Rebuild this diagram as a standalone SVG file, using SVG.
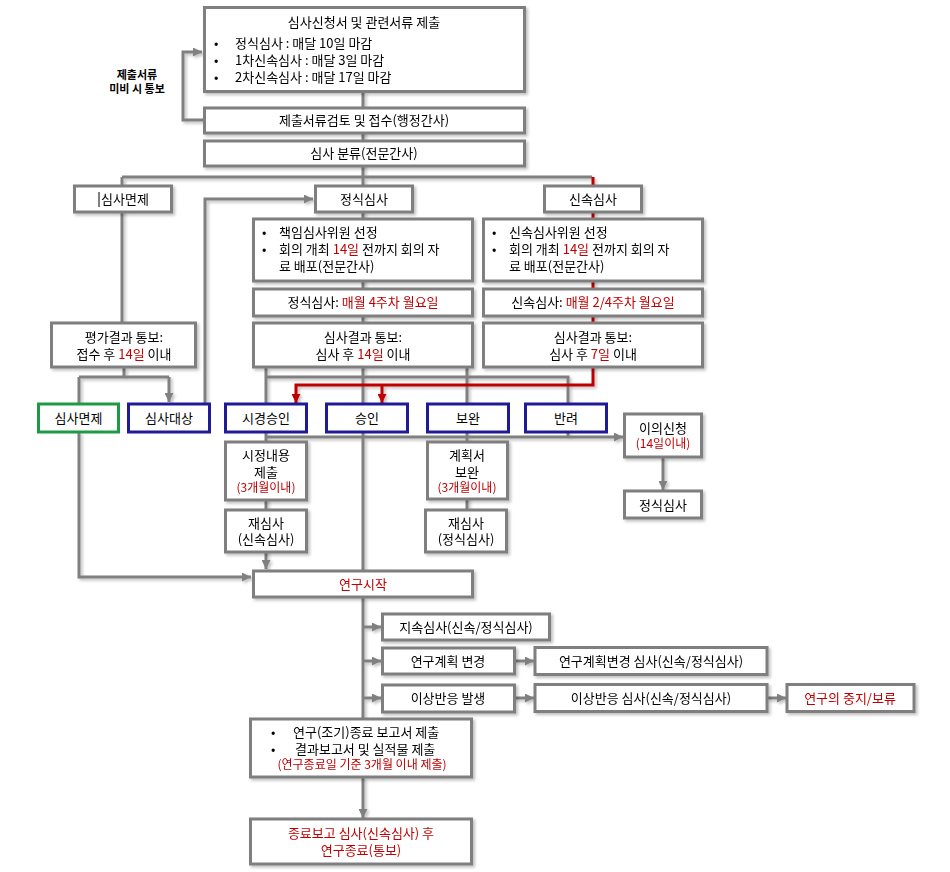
<svg xmlns="http://www.w3.org/2000/svg" width="950" height="872" viewBox="0 0 950 872">
<defs>
<style>
text{font-family:"Noto Sans CJK KR","Noto Sans",sans-serif;font-size:13px;fill:#000;text-anchor:middle}
.st{text-anchor:start}
.r{fill:#c00000}
.sm{font-size:12px}
.lbl{font-size:11px;font-weight:bold}
.box{fill:#fff;stroke:#7f7f7f;stroke-width:3}
.navy{fill:#fff;stroke:#1f1a96;stroke-width:3}
.green{fill:#fff;stroke:#1e9a46;stroke-width:3}
.ln{fill:none;stroke:#808080;stroke-width:3}
.rl{fill:none;stroke:#c00000;stroke-width:3}
</style>
<marker id="ag" viewBox="0 0 10 10" refX="10" refY="5" markerUnits="userSpaceOnUse" markerWidth="9" markerHeight="9" orient="auto"><path d="M0,0 L10,5 L0,10 z" fill="#808080"/></marker>
<marker id="ar" viewBox="0 0 10 10" refX="10" refY="5" markerUnits="userSpaceOnUse" markerWidth="9" markerHeight="9" orient="auto"><path d="M0,0 L10,5 L0,10 z" fill="#c00000"/></marker>
<filter id="sh" x="-10%" y="-10%" width="130%" height="140%"><feDropShadow dx="2" dy="2" stdDeviation="1.5" flood-color="#000" flood-opacity="0.25"/></filter>
</defs>

<g id="connectors" filter="url(#sh)">
<path class="ln" d="M204,120 H183 V52 H202" marker-end="url(#ag)"/>
<path class="ln" d="M363,92 V368"/>
<path class="ln" d="M122,177 H592"/>
<path class="ln" d="M122,177 V323"/>
<path class="ln" d="M124,368 V377 M79,377 H169 M79,377 V404"/>
<path class="ln" d="M169,377 V402" marker-end="url(#ag)"/>
<path class="ln" d="M205,404 V199 H313" marker-end="url(#ag)"/>
<path class="ln" d="M266,368 V404 M363,368 V404 M467,368 V404 M266,377 H568 V404"/>
<path class="ln" d="M79,432 V577 H251" marker-end="url(#ag)"/>
<path class="ln" d="M266,432 V569" marker-end="url(#ag)"/>
<path class="ln" d="M363,432 V571 M467,432 V510 M568,432 V437"/>
<path class="ln" d="M266,437 H623" marker-end="url(#ag)"/>
<path class="ln" d="M663,457 V490" marker-end="url(#ag)"/>
<path class="ln" d="M363,597 V719"/>
<path class="ln" d="M363,627 H381" marker-end="url(#ag)"/>
<path class="ln" d="M363,661 H381" marker-end="url(#ag)"/>
<path class="ln" d="M363,698 H381" marker-end="url(#ag)"/>
<path class="ln" d="M514,661 H534" marker-end="url(#ag)"/>
<path class="ln" d="M514,698 H534" marker-end="url(#ag)"/>
<path class="ln" d="M767,698 H786" marker-end="url(#ag)"/>
<path class="ln" d="M363,777 V818" marker-end="url(#ag)"/>
<path class="rl" d="M593,177 V385 H296 V403" marker-end="url(#ar)"/>
<path class="rl" d="M382,385 V403" marker-end="url(#ar)"/>
</g>

<g id="n-submit" filter="url(#sh)">
<rect class="box" x="204.5" y="7.5" width="320" height="84"/>
<text x="364" y="27">심사신청서 및 관련서류 제출</text>
<text class="st" x="214" y="48">•</text><text class="st" x="235" y="48">정식심사 : 매달 10일 마감</text>
<text class="st" x="214" y="65">•</text><text class="st" x="235" y="65">1차신속심사 : 매달 3일 마감</text>
<text class="st" x="214" y="82">•</text><text class="st" x="235" y="82">2차신속심사 : 매달 17일 마감</text>
</g>
<g id="n-label">
<text class="lbl" x="137" y="79">제출서류</text>
<text class="lbl" x="137" y="93">미비 시 통보</text>
</g>
<g id="n-review" filter="url(#sh)">
<rect class="box" x="204.5" y="108" width="320" height="25"/>
<text x="364" y="125">제출서류검토 및 접수(행정간사)</text>
</g>
<g id="n-classify" filter="url(#sh)">
<rect class="box" x="204.5" y="141" width="320" height="25"/>
<text x="364" y="158">심사 분류(전문간사)</text>
</g>
<g id="n-exempt-top" filter="url(#sh)">
<rect class="box" x="74.5" y="186" width="97" height="26"/>
<line x1="99" y1="192" x2="99" y2="207" stroke="#000" stroke-width="1"/>
<text x="125" y="204">심사면제</text>
</g>
<g id="n-full" filter="url(#sh)">
<rect class="box" x="315.5" y="186" width="97" height="26"/>
<text x="364" y="204">정식심사</text>
</g>
<g id="n-exp" filter="url(#sh)">
<rect class="box" x="544.5" y="186" width="97" height="26"/>
<text x="593" y="204">신속심사</text>
</g>
<g id="n-full-1" filter="url(#sh)">
<rect class="box" x="253.5" y="219" width="219" height="62"/>
<text class="st" x="262" y="237">•</text><text class="st" x="279" y="237">책임심사위원 선정</text>
<text class="st" x="262" y="254">•</text><text class="st" x="279" y="254">회의 개최 <tspan class="r">14일</tspan> 전까지 회의 자</text>
<text class="st" x="279" y="271">료 배포(전문간사)</text>
</g>
<g id="n-full-2" filter="url(#sh)">
<rect class="box" x="253.5" y="289" width="219" height="27"/>
<text x="363" y="307">정식심사: <tspan class="r">매월 4주차 월요일</tspan></text>
</g>
<g id="n-full-3" filter="url(#sh)">
<rect class="box" x="253.5" y="323" width="219" height="44"/>
<text x="363" y="342">심사결과 통보:</text>
<text x="363" y="359">심사 후 <tspan class="r">14일</tspan> 이내</text>
</g>
<g id="n-eval" filter="url(#sh)">
<rect class="box" x="51.5" y="323" width="144" height="44"/>
<text x="124" y="342">평가결과 통보:</text>
<text x="124" y="359">접수 후 <tspan class="r">14일</tspan> 이내</text>
</g>
<g id="n-exp-1" filter="url(#sh)">
<rect class="box" x="483.5" y="219" width="219" height="62"/>
<text class="st" x="492" y="237">•</text><text class="st" x="509" y="237">신속심사위원 선정</text>
<text class="st" x="492" y="254">•</text><text class="st" x="509" y="254">회의 개최 <tspan class="r">14일</tspan> 전까지 회의 자</text>
<text class="st" x="509" y="271">료 배포(전문간사)</text>
</g>
<g id="n-exp-2" filter="url(#sh)">
<rect class="box" x="483.5" y="289" width="219" height="27"/>
<text x="593" y="307">신속심사: <tspan class="r">매월 2/4주차 월요일</tspan></text>
</g>
<g id="n-exp-3" filter="url(#sh)">
<rect class="box" x="483.5" y="323" width="219" height="44"/>
<text x="593" y="342">심사결과 통보:</text>
<text x="593" y="359">심사 후 <tspan class="r">7일</tspan> 이내</text>
</g>

<g id="n-exempt">
<rect class="green" x="38.5" y="404" width="80" height="28"/>
<text x="78.5" y="423">심사면제</text>
</g>
<g id="n-target">
<rect class="navy" x="128.5" y="404" width="81" height="28"/>
<text x="169" y="423">심사대상</text>
</g>
<g id="n-cond">
<rect class="navy" x="225.5" y="404" width="81" height="28"/>
<text x="266" y="423">시경승인</text>
</g>
<g id="n-approve">
<rect class="navy" x="326.5" y="404" width="81" height="28"/>
<text x="367" y="423">승인</text>
</g>
<g id="n-supp">
<rect class="navy" x="427.5" y="404" width="81" height="28"/>
<text x="468" y="423">보완</text>
</g>
<g id="n-reject">
<rect class="navy" x="525.5" y="404" width="81" height="28"/>
<text x="566" y="423">반려</text>
</g>
<g id="n-appeal" filter="url(#sh)">
<rect class="box" x="624.5" y="414" width="77" height="43"/>
<text x="663" y="433">이의신청</text>
<text class="r sm" x="663" y="448">(14일이내)</text>
</g>
<g id="n-appeal-full" filter="url(#sh)">
<rect class="box" x="624.5" y="491" width="77" height="27"/>
<text x="663" y="510">정식심사</text>
</g>
<g id="n-corr" filter="url(#sh)">
<rect class="box" x="225.5" y="442" width="81" height="58"/>
<text x="266" y="460">시정내용</text>
<text x="266" y="477">제출</text>
<text class="r sm" x="266" y="492">(3개월이내)</text>
</g>
<g id="n-re-exp" filter="url(#sh)">
<rect class="box" x="225.5" y="510" width="81" height="42"/>
<text x="266" y="528">재심사</text>
<text x="266" y="544">(신속심사)</text>
</g>
<g id="n-plan" filter="url(#sh)">
<rect class="box" x="427.5" y="442" width="80" height="57"/>
<text x="467" y="460">계획서</text>
<text x="467" y="477">보완</text>
<text class="r sm" x="467" y="492">(3개월이내)</text>
</g>
<g id="n-re-full" filter="url(#sh)">
<rect class="box" x="425.5" y="510" width="81" height="42"/>
<text x="466" y="528">재심사</text>
<text x="466" y="544">(정식심사)</text>
</g>
<g id="n-start" filter="url(#sh)">
<rect class="box" x="253.5" y="571" width="219" height="26"/>
<text class="r" x="363" y="589">연구시작</text>
</g>
<g id="n-cont" filter="url(#sh)">
<rect class="box" x="382.5" y="614" width="167" height="26"/>
<text x="466" y="632">지속심사(신속/정식심사)</text>
</g>
<g id="n-change" filter="url(#sh)">
<rect class="box" x="382.5" y="648" width="132" height="26"/>
<text x="448" y="666">연구계획 변경</text>
</g>
<g id="n-adverse" filter="url(#sh)">
<rect class="box" x="382.5" y="685" width="132" height="27"/>
<text x="448" y="703">이상반응 발생</text>
</g>
<g id="n-change-rev" filter="url(#sh)">
<rect class="box" x="535" y="647.5" width="232" height="27"/>
<text x="651" y="666">연구계획변경 심사(신속/정식심사)</text>
</g>
<g id="n-adverse-rev" filter="url(#sh)">
<rect class="box" x="535" y="684.5" width="232" height="27"/>
<text x="651" y="703">이상반응 심사(신속/정식심사)</text>
</g>
<g id="n-stop" filter="url(#sh)">
<rect class="box" x="787" y="684.5" width="127" height="27"/>
<text class="r" x="850" y="703">연구의 중지/보류</text>
</g>
<g id="n-end-report" filter="url(#sh)">
<rect class="box" x="250.5" y="719" width="221" height="58"/>
<text class="st" x="271" y="737">•</text><text class="st" x="293" y="737">연구(조기)종료 보고서 제출</text>
<text class="st" x="271" y="754">•</text><text class="st" x="295" y="754">결과보고서  및 실적물 제출</text>
<text class="r sm" x="362" y="769">(연구종료일 기준 3개월 이내 제출)</text>
</g>
<g id="n-end" filter="url(#sh)">
<rect class="box" x="250.5" y="819" width="221" height="45"/>
<text class="r" x="361" y="838">종료보고 심사(신속심사) 후</text>
<text class="r" x="361" y="855">연구종료(통보)</text>
</g>
</svg>
